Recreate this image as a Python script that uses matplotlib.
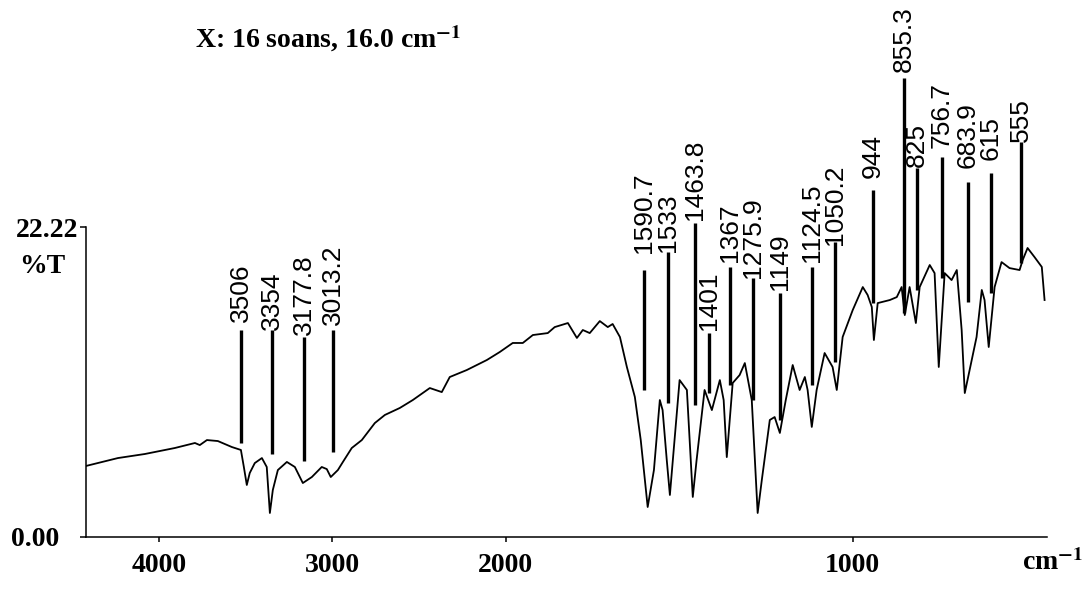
import numpy as np
import matplotlib
matplotlib.use("Agg")
import matplotlib.pyplot as plt

plt.rcParams['font.family'] = ['Liberation Serif', 'DejaVu Serif']
plt.rcParams['mathtext.fontset'] = 'stix'

# spectrum (cm-1, %T)
wavenumber = [4421, 4236, 4081, 3908, 3792, 3764, 3723, 3660, 3579, 3527,
              3510, 3493, 3476, 3447, 3406, 3378, 3360, 3343, 3314, 3262,
              3216, 3170, 3118, 3061, 3032, 3009, 2968, 2939, 2888, 2830,
              2755, 2697, 2611, 2536, 2438, 2369, 2323, 2225, 2109, 2035,
              1980, 1951, 1922, 1879, 1859, 1821, 1795, 1778, 1758, 1729,
              1706, 1692, 1671, 1651, 1628, 1611, 1591, 1573, 1556, 1548,
              1536, 1527, 1516, 1499, 1478, 1470, 1461, 1450, 1427, 1406,
              1383, 1372, 1363, 1346, 1326, 1311, 1291, 1282, 1274, 1262,
              1239, 1225, 1210, 1193, 1173, 1153, 1138, 1130, 1118, 1104,
              1081, 1058, 1046, 1029, 1000, 971, 957, 945, 939, 928,
              893, 873, 859, 850, 836, 818, 807, 778, 764, 752,
              735, 715, 700, 686, 677, 663, 643, 628, 620, 608,
              591, 571, 548, 519, 510, 496, 476, 455, 447]
transmittance = [5.09, 5.66, 5.95, 6.38, 6.74, 6.59, 6.95, 6.88, 6.45, 6.24,
                 5.02, 3.73, 4.59, 5.30, 5.66, 5.02, 1.72, 3.37, 4.80, 5.38,
                 5.02, 3.87, 4.30, 5.02, 4.87, 4.30, 4.80, 5.38, 6.38, 6.95,
                 8.17, 8.75, 9.25, 9.82, 10.68, 10.39, 11.47, 11.97, 12.69, 13.26,
                 13.91, 13.91, 14.48, 14.62, 15.05, 15.34, 14.27, 14.84, 14.62, 15.48,
                 15.05, 15.27, 14.34, 12.19, 10.04, 6.95, 2.15, 4.80, 9.82, 9.10,
                 5.52, 3.01, 6.24, 11.25, 10.54, 6.95, 2.87, 5.52, 10.54, 9.10,
                 11.25, 9.82, 5.73, 11.04, 11.61, 12.47, 9.82, 5.52, 1.72, 4.09,
                 8.39, 8.60, 7.46, 9.82, 12.33, 10.54, 11.47, 10.54, 7.89, 10.54,
                 13.19, 12.19, 10.54, 14.34, 16.27, 17.92, 17.35, 16.49, 14.12, 16.77,
                 16.99, 17.20, 17.92, 15.91, 17.92, 15.34, 17.92, 19.50, 18.92, 12.19,
                 18.92, 18.42, 19.14, 14.84, 10.32, 11.97, 14.34, 17.71, 16.99, 13.62,
                 17.92, 19.71, 19.28, 19.14, 19.86, 20.72, 20.07, 19.36, 16.99]

# peak marks
peak_labels = ['3506', '3354', '3177.8', '3013.2', '1590.7', '1533', '1463.8',
               '1401', '1367', '1275.9', '1149', '1124.5', '1050.2', '944',
               '855.3', '825', '756.7', '683.9', '615', '555']
peak_pos = [3527, 3349, 3164, 2997, 1602, 1533, 1455, 1415, 1354, 1288,
            1210, 1118, 1052, 942, 853, 816, 744, 669, 602, 516]
line_top = [14.84, 14.84, 14.34, 14.84, 19.14, 20.43, 22.51, 14.62, 19.35, 18.57,
            17.49, 19.35, 21.15, 24.87, 32.90, 26.45, 27.24, 25.45, 26.09, 28.32]
line_bottom = [6.74, 5.95, 5.45, 6.09, 10.54, 9.61, 9.46, 10.32, 10.90, 9.82,
               8.39, 10.90, 12.54, 16.77, 16.06, 17.71, 18.57, 16.85, 17.49, 19.64]
text_base = [15.41, 14.84, 14.48, 15.20, 20.36, 20.43, 22.72, 14.84, 19.71, 18.57,
             17.71, 19.71, 20.93, 25.73, 33.33, 26.52, 27.89, 26.45, 27.03, 28.32]


def fwd(x):
    x = np.asarray(x, dtype=float)
    return np.where(x >= 2000, x, 2 * x - 2000)


def inv(u):
    u = np.asarray(u, dtype=float)
    return np.where(u >= 2000, u, (u + 2000) / 2)


fig = plt.figure(figsize=(10.87, 5.90), dpi=100)
ax = fig.add_axes([86 / 1087, 53 / 590, 961 / 1087, 537 / 590])
ax.set_xscale('function', functions=(fwd, inv))

ax.plot(wavenumber, transmittance, color='black', lw=1.3)
ax.vlines(peak_pos, line_bottom, line_top, color='black', lw=2.4)
for lab, x, y in zip(peak_labels, peak_pos, text_base):
    ax.text(x, y, lab, rotation=90, ha='center', va='bottom', fontsize=19,
            family=['Liberation Sans', 'DejaVu Sans'], color='black')

ax.set_xlim(4420, 440)
ax.set_ylim(0, 38.5)

for s in ['top', 'right']:
    ax.spines[s].set_visible(False)
ax.spines['left'].set_bounds(0, 22.22)
ax.spines['left'].set_linewidth(1.1)
ax.spines['bottom'].set_linewidth(1.1)

ax.set_xticks([4000, 3000, 2000, 1000], ['4000', '3000', '2000', '1000'])
ax.set_yticks([0, 22.22], ['0.00', '22.22'])
ax.minorticks_off()
ax.tick_params(axis='x', direction='out', length=3.5, width=1.1, pad=8, labelsize=20)
ax.tick_params(axis='y', direction='out', length=4.5, width=1.1, pad=1, labelsize=20)
for lbl in ax.get_xticklabels() + ax.get_yticklabels():
    lbl.set_fontweight('bold')
ax.yaxis.get_major_ticks()[0].set_pad(15)

ax.set_ylabel('%T', rotation=0, fontsize=20, fontweight='bold', ha='center', va='center')
ax.yaxis.set_label_coords(-0.046, 0.503)
ax.set_xlabel(r'cm$^{\mathbf{-1}}$', fontsize=20, fontweight='bold', ha='center', va='center')
ax.xaxis.set_label_coords(1.006, -0.048)

fig.text(195 / 1087, 1 - 48 / 590, r'X: 16 soans, 16.0 cm$^{\mathbf{-1}}$',
         fontsize=20, fontweight='bold', va='baseline', ha='left')

fig.savefig('out.png', dpi=100)
